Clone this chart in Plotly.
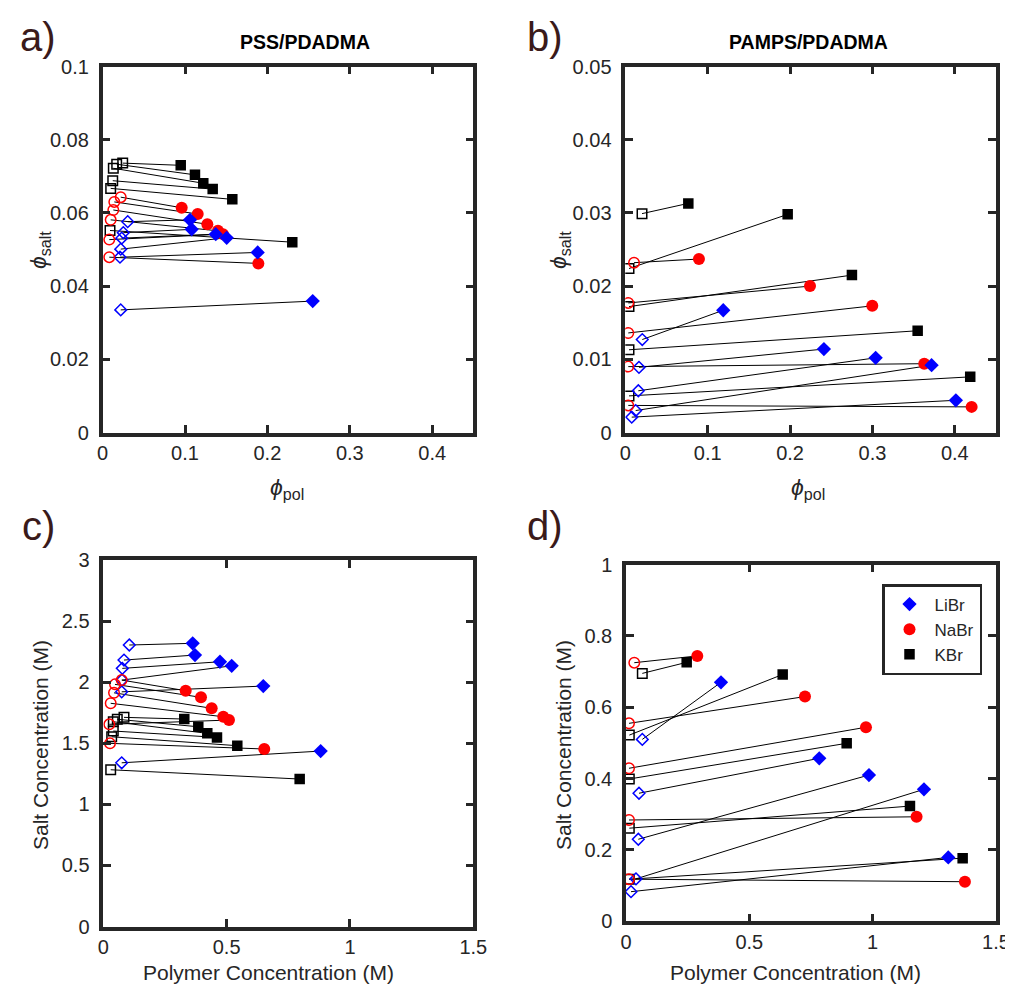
import plotly.graph_objects as go

# ---------------- data ----------------
# Panel a: PSS/PDADMA (volume fractions)
a_li_open_x = [0.0305, 0.0251, 0.0232, 0.0220, 0.0211, 0.0220]
a_li_open_y = [0.0576, 0.0546, 0.0531, 0.0501, 0.0479, 0.0335]
a_li_fill_x = [0.1061, 0.1081, 0.1373, 0.1506, 0.1882, 0.2550]
a_li_fill_y = [0.0581, 0.0555, 0.0542, 0.0532, 0.0492, 0.0359]
a_na_open_x = [0.0220, 0.0142, 0.0130, 0.0098, 0.0081, 0.0081]
a_na_open_y = [0.0643, 0.0630, 0.0608, 0.0581, 0.0527, 0.0479]
a_na_fill_x = [0.0960, 0.1154, 0.1271, 0.1400, 0.1461, 0.1890]
a_na_fill_y = [0.0614, 0.0597, 0.0569, 0.0551, 0.0542, 0.0462]
a_k_open_x = [0.0244, 0.0171, 0.0130, 0.0123, 0.0098, 0.0090]
a_k_open_y = [0.0736, 0.0733, 0.0722, 0.0688, 0.0667, 0.0552]
a_k_fill_x = [0.0948, 0.1121, 0.1222, 0.1336, 0.1574, 0.2302]
a_k_fill_y = [0.0730, 0.0704, 0.0681, 0.0665, 0.0637, 0.0520]

# Panel b: PAMPS/PDADMA (volume fractions)
b_li_open_x = [0.0206, 0.0166, 0.0158, 0.0126, 0.0078]
b_li_open_y = [0.0127, 0.0089, 0.0057, 0.0030, 0.0021]
b_li_fill_x = [0.1189, 0.2411, 0.3039, 0.3718, 0.4013]
b_li_fill_y = [0.0167, 0.0114, 0.0102, 0.0092, 0.0044]
b_na_open_x = [0.0106, 0.0036, 0.0036, 0.0036, 0.0036]
b_na_open_y = [0.0232, 0.0177, 0.0136, 0.0090, 0.0037]
b_na_fill_x = [0.0894, 0.2242, 0.2998, 0.3629, 0.4204]
b_na_fill_y = [0.0237, 0.0200, 0.0173, 0.0094, 0.0035]
b_k_open_x = [0.0203, 0.0045, 0.0045, 0.0045, 0.0045]
b_k_open_y = [0.0299, 0.0224, 0.0172, 0.0113, 0.0050]
b_k_fill_x = [0.0765, 0.1971, 0.2751, 0.3549, 0.4187]
b_k_fill_y = [0.0313, 0.0298, 0.0215, 0.0139, 0.0076]

# Panel c: PSS/PDADMA (molar)
c_li_open_x = [0.1054, 0.0839, 0.0770, 0.0758, 0.0746, 0.0746]
c_li_open_y = [2.304, 2.181, 2.113, 2.017, 1.921, 1.340]
c_li_fill_x = [0.3624, 0.3717, 0.4730, 0.5205, 0.6486, 0.8812]
c_li_fill_y = [2.318, 2.222, 2.167, 2.134, 1.968, 1.436]
c_na_open_x = [0.0746, 0.0474, 0.0434, 0.0300, 0.0243, 0.0272]
c_na_open_y = [2.017, 1.982, 1.913, 1.827, 1.655, 1.499]
c_na_fill_x = [0.3340, 0.3960, 0.4394, 0.4864, 0.5095, 0.6526]
c_na_fill_y = [1.930, 1.876, 1.786, 1.717, 1.690, 1.453]
c_k_open_x = [0.0839, 0.0567, 0.0405, 0.0405, 0.0340, 0.0300]
c_k_open_y = [1.712, 1.696, 1.676, 1.600, 1.553, 1.283]
c_k_fill_x = [0.3283, 0.3851, 0.4216, 0.4609, 0.5432, 0.7961]
c_k_fill_y = [1.698, 1.635, 1.581, 1.548, 1.480, 1.207]

# Panel d: PAMPS/PDADMA (molar)
d_li_open_x = [0.0661, 0.0527, 0.0499, 0.0405, 0.0203]
d_li_open_y = [0.510, 0.359, 0.230, 0.119, 0.083]
d_li_fill_x = [0.3851, 0.7835, 0.9850, 1.2080, 1.3065]
d_li_fill_y = [0.670, 0.457, 0.410, 0.370, 0.179]
d_na_open_x = [0.0336, 0.0122, 0.0122, 0.0122, 0.0122]
d_na_open_y = [0.725, 0.555, 0.429, 0.284, 0.118]
d_na_fill_x = [0.2890, 0.7256, 0.9728, 1.1780, 1.3740]
d_na_fill_y = [0.744, 0.630, 0.544, 0.293, 0.111]
d_k_open_x = [0.0661, 0.0134, 0.0134, 0.0134, 0.0134]
d_k_open_y = [0.695, 0.522, 0.399, 0.261, 0.118]
d_k_fill_x = [0.2460, 0.6352, 0.8946, 1.1512, 1.3648]
d_k_fill_y = [0.726, 0.692, 0.499, 0.323, 0.177]

salts = ["LiBr", "NaBr", "KBr"]
titles = ["PSS/PDADMA", "PAMPS/PDADMA"]

# ---------------- figure ----------------
# the page body has an 8px margin, so the figure is laid out in window pixels minus 8
OFF = 8
W, H = 1005, 978
AX = "#262626"
FONT = "Liberation Sans, Arial, sans-serif"

style = {
    "LiBr": dict(color="#0000FF", fill="diamond", open="diamond-open", fs=11, os=9),
    "NaBr": dict(color="#FF0000", fill="circle", open="circle-open", fs=12, os=10.5),
    "KBr": dict(color="#000000", fill="square", open="square-open", fs=10.5, os=9.5),
}

panels = {
    "a": dict(ax=("x", "y"), data={
        "LiBr": (a_li_open_x, a_li_open_y, a_li_fill_x, a_li_fill_y),
        "NaBr": (a_na_open_x, a_na_open_y, a_na_fill_x, a_na_fill_y),
        "KBr": (a_k_open_x, a_k_open_y, a_k_fill_x, a_k_fill_y)}),
    "b": dict(ax=("x2", "y2"), data={
        "LiBr": (b_li_open_x, b_li_open_y, b_li_fill_x, b_li_fill_y),
        "NaBr": (b_na_open_x, b_na_open_y, b_na_fill_x, b_na_fill_y),
        "KBr": (b_k_open_x, b_k_open_y, b_k_fill_x, b_k_fill_y)}),
    "c": dict(ax=("x3", "y3"), data={
        "LiBr": (c_li_open_x, c_li_open_y, c_li_fill_x, c_li_fill_y),
        "NaBr": (c_na_open_x, c_na_open_y, c_na_fill_x, c_na_fill_y),
        "KBr": (c_k_open_x, c_k_open_y, c_k_fill_x, c_k_fill_y)}),
    "d": dict(ax=("x4", "y4"), data={
        "LiBr": (d_li_open_x, d_li_open_y, d_li_fill_x, d_li_fill_y),
        "NaBr": (d_na_open_x, d_na_open_y, d_na_fill_x, d_na_fill_y),
        "KBr": (d_k_open_x, d_k_open_y, d_k_fill_x, d_k_fill_y)}),
}

fig = go.Figure()

for key, p in panels.items():
    xa, ya = p["ax"]
    # tie lines
    for s in ["KBr", "LiBr", "NaBr"]:
        ox, oy, fx, fy = p["data"][s]
        lx, ly = [], []
        for i in range(len(ox)):
            lx += [ox[i], fx[i], None]
            ly += [oy[i], fy[i], None]
        fig.add_trace(go.Scatter(x=lx, y=ly, mode="lines", xaxis=xa, yaxis=ya,
                                 line=dict(color="black", width=1), showlegend=False,
                                 hoverinfo="skip"))
    # open markers
    for s in ["KBr", "LiBr", "NaBr"]:
        ox, oy, fx, fy = p["data"][s]
        st = style[s]
        fig.add_trace(go.Scatter(x=ox, y=oy, mode="markers", xaxis=xa, yaxis=ya,
                                 marker=dict(symbol=st["open"], size=st["os"], color=st["color"],
                                             line=dict(color=st["color"], width=1.5)),
                                 showlegend=False))
    # filled markers
    for s in ["NaBr", "LiBr", "KBr"]:
        ox, oy, fx, fy = p["data"][s]
        st = style[s]
        fig.add_trace(go.Scatter(x=fx, y=fy, mode="markers", xaxis=xa, yaxis=ya, name=s,
                                 marker=dict(symbol=st["fill"], size=st["fs"], color=st["color"],
                                             line=dict(width=0)),
                                 showlegend=(key == "d"), legendrank={"LiBr": 1, "NaBr": 2, "KBr": 3}[s]))


def px_x(v):
    return (v - OFF) / W


def px_y(v):
    return 1 - (v - OFF) / H


def axis(dom, rng, tickvals, ticktext, anchor, standoff):
    return dict(domain=dom, range=rng, tickvals=tickvals, ticktext=ticktext, anchor=anchor,
                showline=True, linecolor=AX, linewidth=3.5, mirror="ticks",
                ticks="inside", ticklen=8, tickwidth=3, tickcolor=AX,
                showgrid=False, zeroline=False, ticklabelstandoff=standoff, automargin=False,
                tickfont=dict(family=FONT, size=20, color=AX), fixedrange=True)


xa_dom = [px_x(102.6), px_x(473.4)]
xb_dom = [px_x(625.3), px_x(996.0)]
xc_dom = [px_x(103.3), px_x(473.3)]
xd_dom = [px_x(626.0), px_x(996.0)]
yab_dom = [px_y(432.5), px_y(66.5)]
yc_dom = [px_y(926.5), px_y(560.0)]
yd_dom = [px_y(921.3), px_y(564.6)]

XS, YS = 0, 6
fig.update_layout(
    xaxis=axis(xa_dom, [0, 0.45], [0, 0.1, 0.2, 0.3, 0.4], ["0", "0.1", "0.2", "0.3", "0.4"], "y", XS),
    yaxis=axis(yab_dom, [0, 0.1], [0, 0.02, 0.04, 0.06, 0.08, 0.1],
               ["0", "0.02", "0.04", "0.06", "0.08", "0.1"], "x", YS),
    xaxis2=axis(xb_dom, [0, 0.45], [0, 0.1, 0.2, 0.3, 0.4], ["0", "0.1", "0.2", "0.3", "0.4"], "y2", XS),
    yaxis2=axis(yab_dom, [0, 0.05], [0, 0.01, 0.02, 0.03, 0.04, 0.05],
                ["0", "0.01", "0.02", "0.03", "0.04", "0.05"], "x2", YS),
    xaxis3=axis(xc_dom, [0, 1.5], [0, 0.5, 1, 1.5], ["0", "0.5", "1", "1.5"], "y3", XS),
    yaxis3=axis(yc_dom, [0, 3], [0, 0.5, 1, 1.5, 2, 2.5, 3],
                ["0", "0.5", "1", "1.5", "2", "2.5", "3"], "x3", YS),
    xaxis4=axis(xd_dom, [0, 1.5], [0, 0.5, 1, 1.5], ["0", "0.5", "1", "1.5"], "y4", XS),
    yaxis4=axis(yd_dom, [0, 1], [0, 0.2, 0.4, 0.6, 0.8, 1],
                ["0", "0.2", "0.4", "0.6", "0.8", "1"], "x4", YS),
    width=W, height=H,
    margin=dict(l=0, r=0, t=0, b=0, autoexpand=False),
    paper_bgcolor="white", plot_bgcolor="white",
    font=dict(family=FONT, color=AX),
    showlegend=True,
    legend=dict(x=px_x(882), y=px_y(584), xanchor="left", yanchor="top",
                bgcolor="white", bordercolor=AX, borderwidth=2.5,
                font=dict(family=FONT, size=17, color=AX),
                tracegroupgap=0, itemwidth=40),
)

ann = []


def text(x, y, t, size, angle=0, color=AX):
    ann.append(dict(x=px_x(x), y=px_y(y), xref="paper", yref="paper", text=t,
                    showarrow=False, xanchor="center", yanchor="middle", textangle=angle,
                    font=dict(family=FONT, size=size, color=color)))


# panel letters
LET = "#3a1a1a"
text(38, 37, "a)", 40, color=LET)
text(545, 37, "b)", 40, color=LET)
text(38, 526, "c)", 40, color=LET)
text(545, 526, "d)", 40, color=LET)
# titles
text(305, 42, "<b>" + titles[0] + "</b>", 19.5, color="black")
text(808, 42, "<b>" + titles[1] + "</b>", 19.5, color="black")
# axis titles
phi_pol = "<i>ϕ</i><sub>pol</sub>"
phi_salt = "<i>ϕ</i><sub>salt</sub>"
text(287, 488, phi_pol, 23)
text(808, 488, phi_pol, 23)
text(40, 250, phi_salt, 23, angle=-90)
text(560, 250, phi_salt, 23, angle=-90)
text(268, 972, "Polymer Concentration (M)", 21)
text(795, 972, "Polymer Concentration (M)", 21)
text(40, 745, "Salt Concentration (M)", 21, angle=-90)
text(563, 745, "Salt Concentration (M)", 21, angle=-90)

fig.update_layout(annotations=ann)

fig.write_html("out.html")
